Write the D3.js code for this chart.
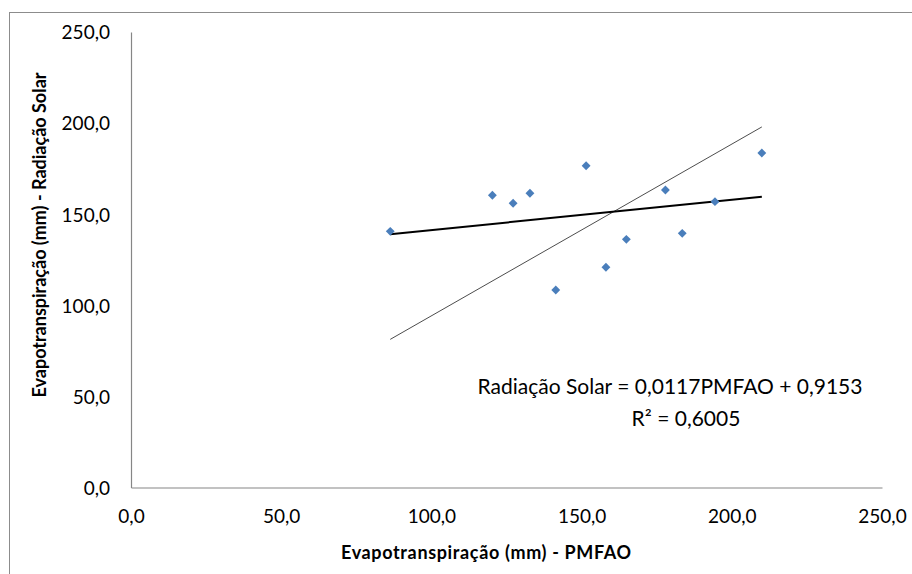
<!DOCTYPE html>
<meta charset="utf-8">
<script src="https://d3js.org/d3.v7.min.js"></script>
<style>
  body { margin: 0; background: #fff; }
  text { font-family: Lato, "Open Sans", sans-serif; fill: #000; }
</style>
<body>
<svg width="912" height="574"></svg>
<script>
    // observed points (PMFAO, Radiacao Solar)
    var pmfao  = [86.3, 120.3, 127.2, 132.8, 151.5, 141.4, 158.1, 164.9, 177.9, 183.5, 194.4, 210.0];
    var radSol = [140.6, 160.4, 156.0, 161.5, 176.6, 108.4, 120.9, 136.2, 163.3, 139.5, 156.9, 183.6];
    // linear trend (thick) and reference line (thin), as end points
    var trendX = [86.3, 210.0], trendY = [139.0, 159.6];
    var refX   = [86.3, 210.0], refY   = [81.3, 197.9];
    var ticks  = [0, 50, 100, 150, 200, 250];
    var eqText = 'Radiação Solar = 0,0117PMFAO + 0,9153';
    var r2Text = 'R² = 0,6005';

    var svg = d3.select('svg');
    var x = d3.scaleLinear().domain([0, 250]).range([131, 882]);
    var y = d3.scaleLinear().domain([0, 250]).range([487.5, 32]);
    var fmt = function(d){ return d3.format('.1f')(d).replace('.', ','); };

    // outer frame
    svg.append('rect').attr('x', 9.5).attr('y', 12.5).attr('width', 920).attr('height', 600)
        .attr('fill', 'none').attr('stroke', '#8c8c8c');

    // axes
    var xAxis = svg.append('g').attr('transform', 'translate(0,' + y(0) + ')')
        .call(d3.axisBottom(x).tickValues(ticks).tickFormat(fmt).tickSize(0).tickPadding(22));
    var yAxis = svg.append('g').attr('transform', 'translate(' + x(0) + ',0)')
        .call(d3.axisLeft(y).tickValues(ticks).tickFormat(fmt).tickSize(0).tickPadding(21));
    [xAxis, yAxis].forEach(function(g){
        g.select('.domain').attr('stroke', '#868686').attr('stroke-width', 1.2);
        g.selectAll('text').style('font-size', '19px').attr('fill', '#000');
    });
    yAxis.selectAll('text').attr('dy', '0.36em');

    // lines
    var line = d3.line().x(function(d){ return x(d[0]); }).y(function(d){ return y(d[1]); });
    svg.append('path').datum(d3.zip(refX, refY)).attr('d', line)
        .attr('fill', 'none').attr('stroke', '#4d4d4d').attr('stroke-width', 1);
    svg.append('path').datum(d3.zip(trendX, trendY)).attr('d', line)
        .attr('fill', 'none').attr('stroke', '#000').attr('stroke-width', 2);

    // points
    var diamond = d3.symbol().type(d3.symbolDiamond2).size(50);
    svg.selectAll('path.pt').data(d3.zip(pmfao, radSol)).enter().append('path')
        .attr('class', 'pt')
        .attr('d', diamond)
        .attr('transform', function(d){ return 'translate(' + x(d[0]) + ',' + y(d[1]) + ')'; })
        .attr('fill', '#4a7ebb');

    // equation
    svg.append('text').attr('x', 670).attr('y', 394).attr('text-anchor', 'middle')
        .style('font-size', '21px').text(eqText);
    svg.append('text').attr('x', 686).attr('y', 426).attr('text-anchor', 'middle')
        .style('font-size', '21px').text(r2Text);

    // axis titles
    svg.append('text').attr('x', 486).attr('y', 559).attr('text-anchor', 'middle')
        .attr('textLength', 290).attr('lengthAdjust', 'spacing')
        .style('font-size', '18px').style('font-weight', 'bold')
        .text('Evapotranspiração (mm) - PMFAO');
    svg.append('text').attr('transform', 'translate(46,235) rotate(-90)').attr('text-anchor', 'middle')
        .style('font-size', '18px').style('font-weight', 'bold')
        .text('Evapotranspiração (mm) - Radiação Solar');
</script>
</body>
